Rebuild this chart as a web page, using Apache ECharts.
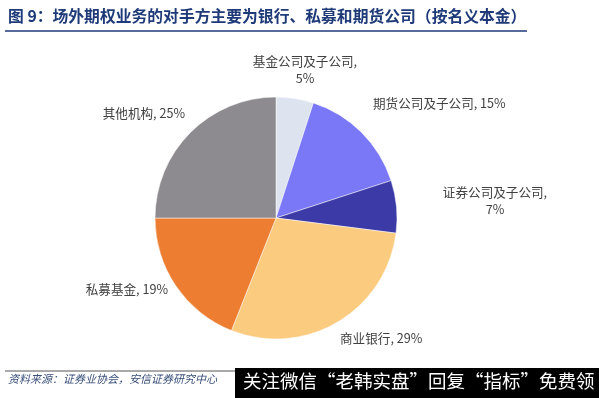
<!DOCTYPE html>
<html><head><meta charset="utf-8">
<script src="https://cdn.jsdelivr.net/npm/echarts@6/dist/echarts.min.js"></script>
<style>html,body{margin:0;padding:0;background:#fff}#c{width:599px;height:398px}</style>
</head><body><div id="c"></div>
<script>
const categories = ['基金公司及子公司', '期货公司及子公司', '证券公司及子公司', '商业银行', '私募基金', '其他机构'];
const values = [5, 15, 7, 29, 19, 25];
const labelTexts = ['基金公司及子公司,\n5%', '期货公司及子公司, 15%', '证券公司及子公司,\n7%', '商业银行, 29%', '私募基金, 19%', '其他机构, 25%'];
const colors = ['#dde4f0', '#7a78f6', '#3c3aa6', '#fbcb7f', '#ec7d31', '#8d8b8f'];
const titleText = '图 9：场外期权业务的对手方主要为银行、私募和期货公司（按名义本金）';
const sourceText = '资料来源：证券业协会，安信证券研究中心';
const watermarkText = '关注微信“老韩实盘”回复“指标”免费领';

const labelPos = [
  {x: 305, y: 70, align: 'center'},
  {x: 373, y: 103, align: 'left'},
  {x: 495, y: 201, align: 'center'},
  {x: 340, y: 338, align: 'left'},
  {x: 168, y: 289, align: 'right'},
  {x: 185, y: 113, align: 'right'}
];

const chart = echarts.init(document.getElementById('c'), null, {renderer: 'canvas'});
chart.setOption({
  animation: false,
  backgroundColor: '#fff',
  graphic: [
    {type: 'text', left: 8, top: 8, style: {text: titleText, font: 'bold 15.8px "Noto Sans CJK SC"', fill: '#1f3a78'}},
    {type: 'line', shape: {x1: 5, y1: 31, x2: 527, y2: 31}, style: {stroke: '#1f3a78', lineWidth: 1.5}},
    {type: 'line', shape: {x1: 5, y1: 371, x2: 240, y2: 371}, style: {stroke: '#555', lineWidth: 1}},
    {type: 'text', left: 8, top: 373, style: {text: sourceText, font: 'italic 11px "Noto Sans CJK SC"', fill: '#3a4f7a'}},
    {type: 'rect', shape: {x: 235, y: 368, width: 364, height: 30}, style: {fill: '#000'}},
    {type: 'text', left: 243, top: 372, style: {text: watermarkText, font: '18.5px "Noto Sans CJK SC"', fill: '#fff'}}
  ],
  series: [{
    type: 'pie',
    center: [276, 218],
    radius: 121,
    startAngle: 90,
    clockwise: true,
    color: colors,
    label: {
      show: true,
      formatter: p => labelTexts[p.dataIndex],
      color: '#404040',
      fontSize: 12.6,
      lineHeight: 17,
      fontFamily: '"Noto Sans CJK SC"'
    },
    labelLine: {show: false},
    labelLayout: p => Object.assign({verticalAlign: 'middle'}, labelPos[p.dataIndex]),
    itemStyle: {borderColor: '#fff', borderWidth: 0.5},
    emphasis: {disabled: true},
    data: categories.map((n, i) => ({name: n, value: values[i]}))
  }]
});
</script></body></html>
